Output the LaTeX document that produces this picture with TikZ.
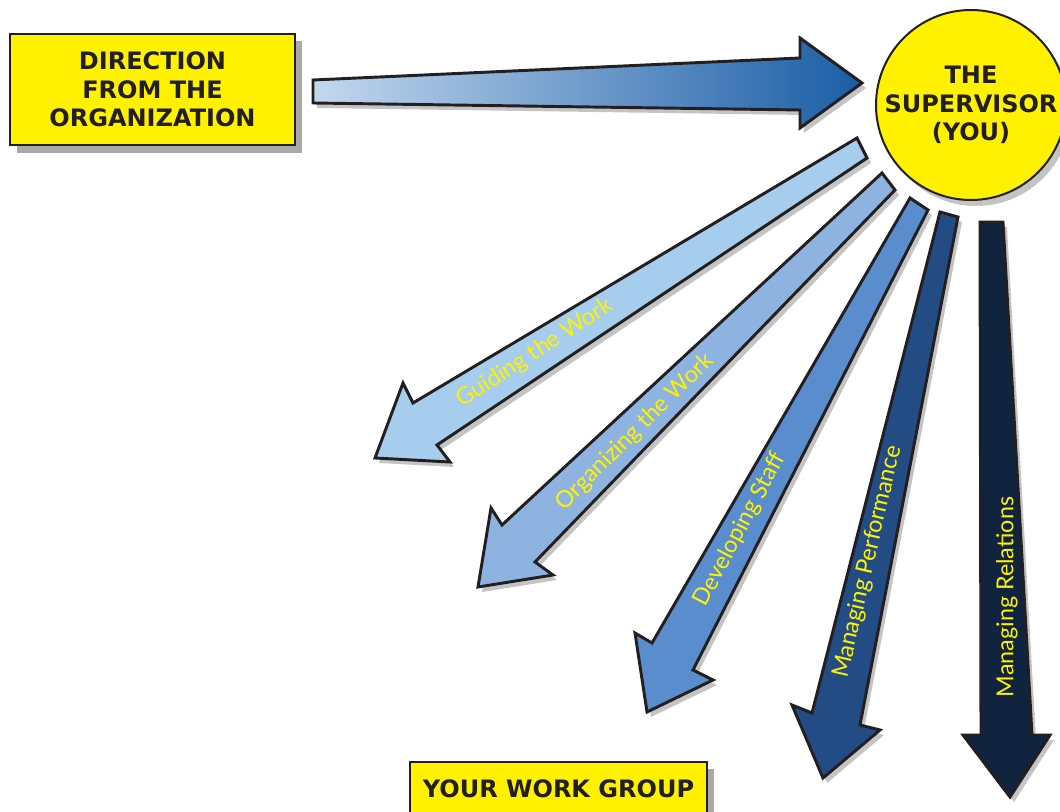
\documentclass[tikz,border=0pt]{standalone}
\usepackage{fontspec}
\setmainfont{DejaVu Sans}
\newfontfamily\labelfont{Lato}
\definecolor{ylw}{HTML}{FFF100}
\definecolor{txtylw}{HTML}{FFF200}
\definecolor{cGuide}{HTML}{A7CDEE}
\definecolor{cOrg}{HTML}{8EB3E0}
\definecolor{cDev}{HTML}{5A8DCE}
\definecolor{cPerf}{HTML}{234C84}
\definecolor{cRel}{HTML}{10233F}
\definecolor{cLeft}{HTML}{C3D8EF}
\definecolor{cRight}{HTML}{1A5DA6}
\definecolor{shadowgray}{HTML}{C4C4C4}
\definecolor{boxshadow}{HTML}{A9A9A9}
\definecolor{ink}{HTML}{231F20}
\tikzset{
  arrowshape/.style={draw=ink, line width=2.2pt, line join=miter},
  shadowshape/.style={fill=shadowgray, draw=none},
  headbox/.style={draw=ink, line width=1.5pt, fill=ylw, align=center, inner sep=0pt,
    font=\fontsize{18}{21.5}\selectfont\bfseries, text=ink},
  armlabel/.style={text=txtylw, font=\labelfont\fontsize{17.5}{19}\selectfont, inner sep=0pt},
}
\begin{document}
\begin{tikzpicture}[x=0.75pt,y=-0.75pt]
\useasboundingbox (0,0) rectangle (1060,812);
\clip (0,0) rectangle (1060,812);
\fill[white] (0,0) rectangle (1060,812);

% ---- shadows ----
\fill[boxshadow] (17,41) rectangle (302,153);
\fill[boxshadow] (417,769) rectangle (714,830);
\fill[shadowgray] (976,111) circle[radius=95];
\begin{scope}[shift={(4,5)}]
  \fill[shadowgray] (313,80) -- (800,58) -- (800,38) -- (862,83) -- (800,128) -- (800,110) -- (313,103) -- cycle;
  \fill[shadowgray] (857,138) -- (867,158) -- (437,445) -- (450,462) -- (375,458) -- (403,383) -- (413,403) -- cycle;
  \fill[shadowgray] (882,173) -- (895,190) -- (535,562) -- (553,575) -- (478,587) -- (491,508) -- (502,525) -- cycle;
  \fill[shadowgray] (910,198) -- (928,210) -- (693,670) -- (713,680) -- (647,712) -- (635,633) -- (652,643) -- cycle;
  \fill[shadowgray] (940,212) -- (958,217) -- (860,725) -- (880,730) -- (823,778) -- (792,705) -- (812,713) -- cycle;
  \fill[shadowgray] (980,222) -- (1003,222) -- (1032,735) -- (1050,735) -- (1010,797) -- (963,735) -- (981,735) -- cycle;
\end{scope}

% ---- arrows ----
\path[arrowshape, left color=cLeft, right color=cRight]
  (313,80) -- (800,58) -- (800,38) -- (862,83) -- (800,128) -- (800,110) -- (313,103) -- cycle;
\path[arrowshape, fill=cGuide]
  (857,138) -- (867,158) -- (437,445) -- (450,462) -- (375,458) -- (403,383) -- (413,403) -- cycle;
\path[arrowshape, fill=cOrg]
  (882,173) -- (895,190) -- (535,562) -- (553,575) -- (478,587) -- (491,508) -- (502,525) -- cycle;
\path[arrowshape, fill=cDev]
  (910,198) -- (928,210) -- (693,670) -- (713,680) -- (647,712) -- (635,633) -- (652,643) -- cycle;
\path[arrowshape, fill=cPerf]
  (940,212) -- (958,217) -- (860,725) -- (880,730) -- (823,778) -- (792,705) -- (812,713) -- cycle;
\path[arrowshape, fill=cRel]
  (980,222) -- (1003,222) -- (1032,735) -- (1050,735) -- (1010,797) -- (963,735) -- (981,735) -- cycle;

% ---- labels ----
\node[armlabel, rotate=33] (lguide) at (535,353) {Guiding the Work};
\node[armlabel, rotate=44.7] (lorg) at (635,432) {Organizing the Work};
\node[armlabel, rotate=62] (ldev) at (740,530) {Developing Staff};
\node[armlabel, rotate=77] (lperf) at (868,562) {Managing Performance};
\node[armlabel, rotate=90] (lrel) at (1007,597) {Managing Relations};

% ---- boxes ----
\node[headbox, minimum width=213.75pt, minimum height=83.25pt] (org) at (152.5,89.5)
  {DIRECTION\\FROM THE\\ORGANIZATION};
\node[headbox, circle, minimum size=142.5pt] (sup) at (971,105)
  {THE\\SUPERVISOR\\(YOU)};
\node[headbox, minimum width=222.75pt, minimum height=39.75pt] (grp) at (558.5,788.5)
  {YOUR WORK GROUP};
\end{tikzpicture}
\end{document}
